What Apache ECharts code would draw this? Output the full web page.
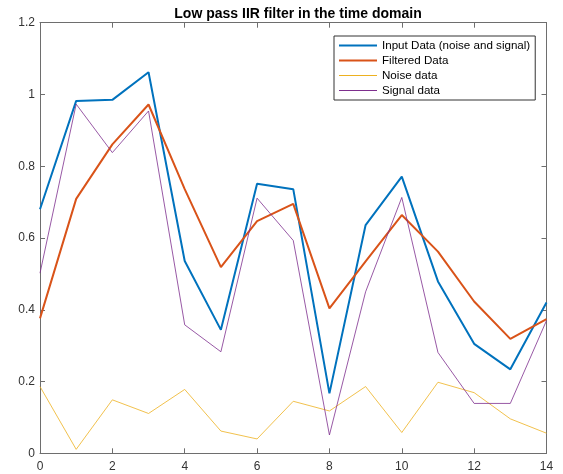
<!DOCTYPE html>
<html>
<head>
<meta charset="utf-8">
<script src="https://cdn.jsdelivr.net/npm/echarts@6/dist/echarts.min.js"></script>
<style>
html,body{margin:0;padding:0;background:#fff;}
#main{width:563px;height:474px;}
</style>
</head>
<body>
<div id="main"></div>
<script>
const xValues = [0,1,2,3,4,5,6,7,8,9,10,11,12,13,14];
const inputData = [0.680,0.982,0.985,1.062,0.536,0.344,0.751,0.736,0.167,0.636,0.771,0.479,0.305,0.234,0.420];
const filteredData = [0.376,0.709,0.861,0.972,0.736,0.519,0.647,0.695,0.404,0.535,0.664,0.562,0.423,0.319,0.374];
const noiseData = [0.186,0.011,0.149,0.111,0.178,0.062,0.040,0.145,0.118,0.186,0.058,0.198,0.169,0.096,0.056];
const signalData = [0.502,0.973,0.838,0.954,0.358,0.283,0.711,0.593,0.051,0.450,0.713,0.281,0.139,0.139,0.370];
const seriesNames = ['Input Data (noise and signal)','Filtered Data','Noise data','Signal data'];
const titleText = 'Low pass IIR filter in the time domain';

const pairs = arr => xValues.map((x,i)=>[x,arr[i]]);
const font = 'Liberation Sans, Arial, Helvetica, sans-serif';
const frameColor = '#6e6e6e';
const labelColor = '#333333';
const thickIcon = 'path://M0 0H38V2H0Z';
const thinIcon = 'path://M0 0H38V1H0Z';

const axisCommon = {
  axisLine:{show:true,onZero:false,lineStyle:{color:frameColor,width:1}},
  axisTick:{show:true,inside:true,length:5,lineStyle:{color:frameColor,width:1}},
  splitLine:{show:false}
};

const chart = echarts.init(document.getElementById('main'),null,{renderer:'canvas'});
chart.setOption({
  animation:false,
  backgroundColor:'#ffffff',
  title:{text:titleText,left:293,textAlign:'center',top:2,
    textStyle:{fontFamily:font,fontSize:14,fontWeight:'bold',color:'#000'}},
  grid:{left:40,right:16.5,top:22.7,bottom:20.7,containLabel:false},
  legend:{
    orient:'vertical',left:334,top:36,
    padding:[3,5,3,5],itemGap:2,itemWidth:38,itemHeight:13,
    symbolKeepAspect:true,
    borderColor:'#333',borderWidth:1,backgroundColor:'#fff',
    textStyle:{fontFamily:font,fontSize:11.6,color:'#000',lineHeight:13},
    data:[
      {name:seriesNames[0],icon:thickIcon},
      {name:seriesNames[1],icon:thickIcon},
      {name:seriesNames[2],icon:thinIcon},
      {name:seriesNames[3],icon:thinIcon}
    ]
  },
  xAxis:[
    Object.assign({type:'value',min:0,max:14,interval:2,position:'bottom',
      axisLabel:{fontFamily:font,fontSize:12,color:labelColor,margin:7}},axisCommon),
    Object.assign({type:'value',min:0,max:14,interval:2,position:'top',
      axisLabel:{show:false}},axisCommon)
  ],
  yAxis:[
    Object.assign({type:'value',min:0,max:1.2,interval:0.2,position:'left',
      axisLabel:{fontFamily:font,fontSize:12,color:labelColor,margin:5}},axisCommon),
    Object.assign({type:'value',min:0,max:1.2,interval:0.2,position:'right',
      axisLabel:{show:false}},axisCommon)
  ],
  series:[
    {name:seriesNames[0],type:'line',data:pairs(inputData),symbol:'none',
      lineStyle:{color:'#0072BD',width:2},itemStyle:{color:'#0072BD'}},
    {name:seriesNames[1],type:'line',data:pairs(filteredData),symbol:'none',
      lineStyle:{color:'#D95319',width:2},itemStyle:{color:'#D95319'}},
    {name:seriesNames[2],type:'line',data:pairs(noiseData),symbol:'none',
      lineStyle:{color:'#EDB120',width:0.8},itemStyle:{color:'#EDB120'}},
    {name:seriesNames[3],type:'line',data:pairs(signalData),symbol:'none',
      lineStyle:{color:'#7E2F8E',width:0.8},itemStyle:{color:'#7E2F8E'}}
  ]
});
</script>
</body>
</html>
